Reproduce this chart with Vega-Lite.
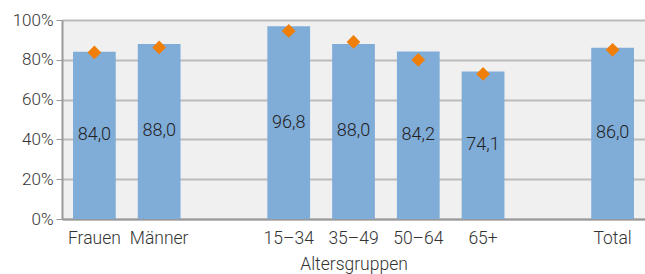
{
  "$schema": "https://vega.github.io/schema/vega-lite/v6.json",
  "autosize": "none",
  "width": 583,
  "height": 199,
  "padding": {"left": 62, "top": 20, "right": 0, "bottom": 55},
  "background": "white",
  "config": {
    "font": "Roboto",
    "view": {"fill": "#f0f0f0", "stroke": null}
  },
  "data": {
    "values": [
      {"cat": "Frauen", "value": 84.0, "marker": 83.7, "label": "84,0"},
      {"cat": "Männer", "value": 88.0, "marker": 86.2, "label": "88,0"},
      {"cat": "15–34", "value": 96.8, "marker": 94.5, "label": "96,8"},
      {"cat": "35–49", "value": 88.0, "marker": 89.0, "label": "88,0"},
      {"cat": "50–64", "value": 84.2, "marker": 80.0, "label": "84,2"},
      {"cat": "65+", "value": 74.1, "marker": 72.9, "label": "74,1"},
      {"cat": "Total", "value": 86.0, "marker": 85.0, "label": "86,0"}
    ]
  },
  "encoding": {
    "x": {
      "field": "cat",
      "type": "nominal",
      "sort": null,
      "scale": {
        "domain": ["Frauen", "Männer", " ", "15–34", "35–49", "50–64", "65+", "  ", "Total"],
        "paddingInner": 0.34,
        "paddingOuter": 0.17
      },
      "axis": {
        "title": "Altersgruppen",
        "titleFont": "Roboto",
        "titleFontWeight": 300,
        "titleFontSize": 17.5,
        "titleColor": "#333",
        "titlePadding": 9,
        "labelAngle": 0,
        "labelFont": "Roboto",
        "labelFontWeight": 300,
        "labelFontSize": 17.5,
        "labelColor": "#333",
        "labelPadding": 10,
        "ticks": false,
        "domainColor": "#999",
        "domainWidth": 2
      }
    }
  },
  "layer": [
    {
      "mark": {"type": "bar", "color": "#80acd8"},
      "encoding": {
        "y": {
          "field": "value",
          "type": "quantitative",
          "scale": {"domain": [0, 100]},
          "axis": {
            "title": null,
            "values": [0, 20, 40, 60, 80, 100],
            "labelExpr": "datum.value + '%'",
            "labelFont": "Roboto",
            "labelFontWeight": 300,
            "labelFontSize": 17,
            "labelColor": "#333",
            "labelPadding": 3,
            "tickSize": 6,
            "tickColor": "#999",
            "domainColor": "#999",
            "domainWidth": 2,
            "gridColor": "#bbbbbb",
            "gridWidth": 2
          }
        }
      }
    },
    {
      "mark": {"type": "point", "shape": "diamond", "filled": true, "color": "#f07f0a", "size": 190, "opacity": 1},
      "encoding": {
        "y": {"field": "marker", "type": "quantitative", "scale": {"domain": [0, 100]}, "axis": null}
      }
    },
    {
      "mark": {"type": "text", "font": "Roboto", "fontWeight": 300, "fontSize": 18, "color": "#222", "baseline": "middle"},
      "encoding": {
        "y": {
          "field": "value",
          "type": "quantitative",
          "scale": {"domain": [0, 200]},
          "axis": null
        },
        "text": {"field": "label"}
      }
    }
  ],
  "resolve": {"scale": {"y": "independent"}}
}
